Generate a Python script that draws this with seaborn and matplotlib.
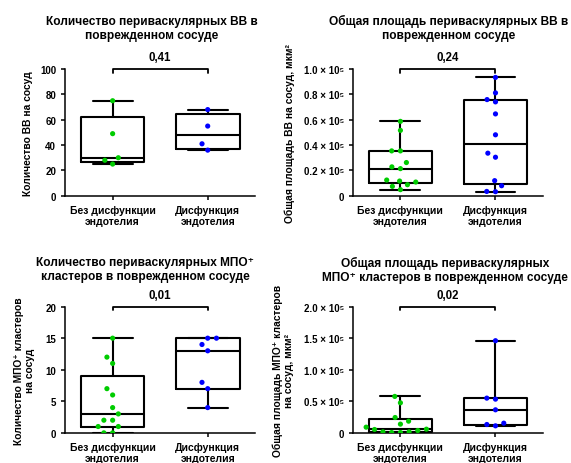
import numpy as np
import pandas as pd
import seaborn as sns
import matplotlib.pyplot as plt
from matplotlib.path import Path
from matplotlib.transforms import Affine2D
from matplotlib.ticker import FuncFormatter

# groups
groups = ['Без дисфункции\nэндотелия', 'Дисфункция\nэндотелия']
colors = ['#00CC00', '#0000FF']

# values
vv_count_no = [75, 49, 30, 28, 25]
vv_count_dys = [68, 55, 41, 36]
vv_area_no = [58700, 51600, 35400, 35400, 26200, 22800, 21400, 12400, 11600, 10800, 8700, 7400, 4800]
vv_area_dys = [93400, 81200, 75900, 74100, 64600, 48100, 33600, 30400, 11900, 7900, 3400, 3200]
mpo_count_no = [15, 12, 11, 7, 6, 4, 3, 2, 2, 1, 1, 0, 0]
mpo_count_dys = [15, 15, 14, 13, 8, 7, 4]
mpo_area_no = [57700, 47600, 24300, 18500, 13800, 9000, 5800, 5300, 3700, 1600, 1600, 500, 500]
mpo_area_dys = [146000, 55000, 53400, 36500, 15300, 13200, 11100]

p_values = ['0,41', '0,24', '0,01', '0,02']

titles = ['Количество периваскулярных ВВ в\nповрежденном сосуде',
          'Общая площадь периваскулярных ВВ в\nповрежденном сосуде',
          'Количество периваскулярных МПО⁺\nкластеров в поврежденном сосуде',
          'Общая площадь периваскулярных\nМПО⁺ кластеров в поврежденном сосуде']
ylabels = ['Количество ВВ на сосуд',
           'Общая площадь ВВ на сосуд, мкм²',
           'Количество МПО⁺ кластеров\nна сосуд',
           'Общая площадь МПО⁺ кластеров\nна сосуд, мкм²']

sns.set_style('ticks')
plt.rcParams['font.family'] = ['Liberation Sans', 'DejaVu Sans']
plt.rcParams['font.weight'] = 'bold'
for key in ['text.color', 'axes.labelcolor', 'xtick.color', 'ytick.color', 'axes.edgecolor']:
    plt.rcParams[key] = 'black'
plt.rcParams['axes.linewidth'] = 1.1
plt.rcParams['xtick.major.width'] = 1.1
plt.rcParams['ytick.major.width'] = 1.1
plt.rcParams['xtick.major.size'] = 3
plt.rcParams['ytick.major.size'] = 3

# swarm spacing is worked out from a bigger marker than the one drawn,
# so the dots spread out like in prism
SWARM_SIZE = 6.0
DOT_SCALE = 0.62


def box_stats(v):
    """ quartiles the way GraphPad does them """
    q1, med, q3 = np.percentile(v, [25, 50, 75], method='weibull')
    return dict(med=med, q1=q1, q3=q3, whislo=min(v), whishi=max(v), fliers=[])


def sci_fmt(v, pos):
    if v == 0:
        return '0'
    return f'{v / 1e5:.1f} × 10⁵'


def panel(ax, no, dys, ymax, step, title_xy, title, ylabel, label_x, pval, sci=False):
    df = pd.DataFrame({'group': [groups[0]] * len(no) + [groups[1]] * len(dys),
                       'value': list(no) + list(dys)})
    ax.bxp([box_stats(no), box_stats(dys)], positions=[0, 1], widths=0.67,
           capwidths=0.42, manage_ticks=False, showfliers=False,
           boxprops=dict(color='black', linewidth=1.5),
           whiskerprops=dict(color='black', linewidth=1.5),
           capprops=dict(color='black', linewidth=1.5),
           medianprops=dict(color='black', linewidth=1.5))
    n_before = len(ax.collections)
    sns.swarmplot(data=df, x='group', y='value', hue='group', order=groups,
                  hue_order=groups, palette=colors, size=SWARM_SIZE, legend=False,
                  ax=ax, zorder=3, linewidth=0)
    small_dot = Path.unit_circle().transformed(Affine2D().scale(0.5 * DOT_SCALE))
    for coll in ax.collections[n_before:]:
        coll.set_paths([small_dot])
    ax.set_xlim(-0.5, 1.5)
    ax.set_ylim(0, ymax)
    ax.set_yticks(np.arange(0, ymax + step / 2, step))
    if sci:
        ax.yaxis.set_major_formatter(FuncFormatter(sci_fmt))
    ax.set_xticks([0, 1])
    ax.set_xticklabels(groups, fontsize=7.5, fontweight='bold')
    ax.tick_params(axis='y', labelsize=7)
    ax.set_xlabel('')
    ax.set_ylabel(ylabel, fontsize=7.4, fontweight='bold', va='center')
    ax.yaxis.set_label_coords(label_x, 0.5)
    sns.despine(ax=ax)

    # bracket with p value
    tr = ax.get_xaxis_transform()
    ax.plot([0, 0, 1, 1], [0.972, 1, 1, 0.972], color='black', lw=1.3,
            transform=tr, clip_on=False)
    ax.annotate(pval, xy=(0.5, 1), xycoords='axes fraction', xytext=(0, 8.5),
                textcoords='offset points', ha='center', va='center',
                fontsize=8.3, fontweight='bold')

    fig.text(title_xy[0], title_xy[1], title, ha='center', va='center',
             fontsize=8.6, fontweight='bold', linespacing=1.25)


fig = plt.figure(figsize=(5.71, 4.64), dpi=100)
ax1 = fig.add_axes([0.114, 0.576, 0.333, 0.273])
ax2 = fig.add_axes([0.618, 0.576, 0.333, 0.273])
ax3 = fig.add_axes([0.114, 0.065, 0.333, 0.272])
ax4 = fig.add_axes([0.618, 0.065, 0.333, 0.272])

panel(ax1, vv_count_no, vv_count_dys, 100, 20, (0.266, 0.937), titles[0], ylabels[0], -0.195, p_values[0])
panel(ax2, vv_area_no, vv_area_dys, 100000, 20000, (0.785, 0.938), titles[1], ylabels[1], -0.33, p_values[1], sci=True)
panel(ax3, mpo_count_no, mpo_count_dys, 20, 5, (0.254, 0.418), titles[2], ylabels[2], -0.213, p_values[2])
panel(ax4, mpo_area_no, mpo_area_dys, 200000, 50000, (0.779, 0.417), titles[3], ylabels[3], -0.366, p_values[3], sci=True)

fig.savefig('out.png', dpi=100)
